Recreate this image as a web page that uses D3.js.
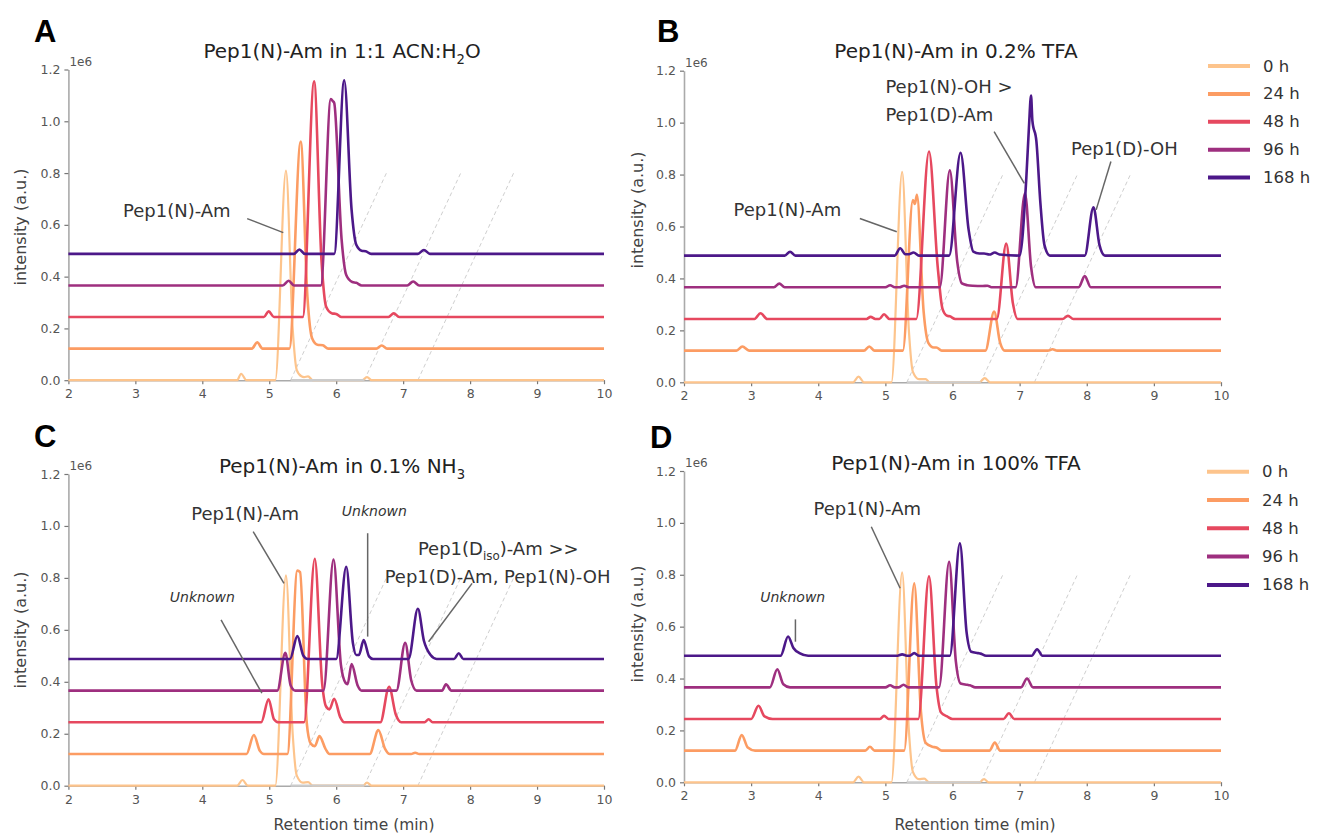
<!DOCTYPE html>
<html><head><meta charset="utf-8">
<script src="https://cdn.jsdelivr.net/npm/d3@7"></script>
<style>body{margin:0;background:#fff;} svg{display:block;}</style>
</head><body>
<svg id="chart" width="1321" height="835"></svg>
<script>
// ---------------- DATA ----------------
const timeLabels = ['0 h', '24 h', '48 h', '96 h', '168 h'];
const traceColors = ['#fdc48c', '#fc9c63', '#e6485f', '#9e2f7f', '#4c1889'];
const baselineOffsets = [0, 0.122, 0.244, 0.366, 0.488];   // x1e6, waterfall offsets
const xTicks = [2, 3, 4, 5, 6, 7, 8, 9, 10];
const yTicks = [0, 0.2, 0.4, 0.6, 0.8, 1.0, 1.2];
const panelLetters = ['A', 'B', 'C', 'D'];
const panelTitles = [
  [['Pep1(N)-Am in 1:1 ACN:H', 0], ['2', 1], ['O', 0]],
  [['Pep1(N)-Am in 0.2% TFA', 0]],
  [['Pep1(N)-Am in 0.1% NH', 0], ['3', 1]],
  [['Pep1(N)-Am in 100% TFA', 0]]
];
// dashed perspective guides: [start time at 0, end time at guideTop]
const guideLines = [[5.32, 6.75], [6.42, 7.86], [7.22, 8.65]];
const guideTop = 0.8;
const greyBaseSegment = [5.32, 6.42];

// chromatogram vertices [retention time (min), intensity above own baseline (x1e6)]
const panelA = [
  [[2,0],[4.52,0],[4.58,0.025],[4.66,0],[5.09,0],[5.25,0.81],[5.35,0.2],[5.41,0.04],[5.48,0.015],[5.52,0.012],[5.58,0.015],[5.65,0],[6.39,0],[6.46,0.012],[6.53,0],[10,0]],
  [[2,0],[4.74,0],[4.82,0.024],[4.9,0],[5.3,0],[5.47,0.8],[5.57,0.2],[5.64,0.04],[5.72,0.015],[5.8,0.013],[5.88,0],[6.6,0],[6.68,0.012],[6.76,0],[10,0]],
  [[2,0],[4.92,0],[4.99,0.022],[5.07,0],[5.5,0],[5.67,0.91],[5.78,0.22],[5.85,0.04],[5.94,0.014],[6.0,0.012],[6.08,0],[6.78,0],[6.86,0.014],[6.94,0],[10,0]],
  [[2,0],[5.2,0],[5.29,0.018],[5.37,0],[5.77,0],[5.92,0.72],[5.95,0.712],[5.97,0.705],[6.08,0.18],[6.15,0.04],[6.24,0.013],[6.3,0.01],[6.38,0],[7.06,0],[7.15,0.015],[7.24,0],[10,0]],
  [[2,0],[5.37,0],[5.45,0.017],[5.53,0],[5.97,0],[6.12,0.67],[6.23,0.17],[6.3,0.035],[6.38,0.012],[6.44,0.01],[6.52,0],[7.22,0],[7.31,0.015],[7.4,0],[10,0]]
];
const panelB = [
  [[2,0],[4.52,0],[4.6,0.022],[4.68,0],[5.09,0],[5.25,0.81],[5.35,0.2],[5.41,0.04],[5.5,0.012],[5.6,0.012],[5.66,0],[6.4,0],[6.48,0.016],[6.56,0],[10,0]],
  [[2,0],[2.78,0],[2.87,0.016],[2.97,0],[4.68,0],[4.76,0.016],[4.84,0],[5.26,0],[5.41,0.58],[5.44,0.565],[5.47,0.6],[5.57,0.15],[5.64,0.03],[5.72,0.012],[5.76,0.012],[5.84,0],[6.49,0],[6.62,0.15],[6.71,0.03],[6.78,0],[7.42,0],[7.49,0.005],[7.56,0],[10,0]],
  [[2,0],[3.05,0],[3.14,0.022],[3.24,0],[4.72,0],[4.78,0.008],[4.85,0],[4.91,0],[4.98,0.018],[5.06,0],[5.46,0],[5.65,0.645],[5.78,0.2],[5.85,0.04],[5.92,0.012],[5.96,0.01],[6.04,0],[6.66,0],[6.8,0.29],[6.9,0.06],[6.97,0],[7.64,0],[7.72,0.012],[7.8,0],[10,0]],
  [[2,0],[3.34,0],[3.42,0.014],[3.5,0],[5.0,0],[5.07,0.008],[5.14,0],[5.21,0],[5.28,0.006],[5.35,0],[5.81,0],[5.96,0.45],[6.07,0.1],[6.14,0.015],[6.22,0.008],[6.3,0.006],[6.45,0.005],[6.52,0.006],[6.58,0],[6.94,0],[7.08,0.362],[7.17,0.08],[7.24,0],[7.88,0],[7.97,0.043],[8.06,0],[10,0]],
  [[2,0],[3.5,0],[3.58,0.015],[3.66,0],[5.14,0],[5.22,0.028],[5.3,0.005],[5.35,0.005],[5.42,0.012],[5.5,0],[5.95,0],[6.12,0.396],[6.24,0.1],[6.31,0.015],[6.4,0.008],[6.47,0.008],[6.55,0.004],[6.63,0.012],[6.7,0.004],[7.0,0],[7.1,0.3],[7.14,0.5],[7.17,0.616],[7.19,0.52],[7.25,0.44],[7.31,0.2],[7.37,0.04],[7.45,0],[7.97,0],[8.1,0.186],[8.19,0.04],[8.27,0],[10,0]]
];
const panelC = [
  [[2,0],[4.52,0],[4.6,0.022],[4.68,0],[5.09,0],[5.25,0.81],[5.35,0.2],[5.41,0.04],[5.5,0.012],[5.58,0.014],[5.65,0],[6.4,0],[6.46,0.012],[6.53,0],[10,0]],
  [[2,0],[4.66,0],[4.77,0.073],[4.86,0.012],[4.92,0],[5.27,0],[5.42,0.706],[5.46,0.7],[5.56,0.12],[5.62,0.04],[5.68,0.03],[5.75,0.069],[5.84,0.02],[5.9,0],[6.5,0],[6.63,0.092],[6.73,0.02],[6.8,0],[7.12,0],[7.18,0.005],[7.24,0],[10,0]],
  [[2,0],[4.88,0],[4.99,0.089],[5.07,0.012],[5.14,0],[5.52,0],[5.68,0.63],[5.79,0.15],[5.85,0.06],[5.9,0.05],[5.97,0.091],[6.06,0.02],[6.12,0],[6.66,0],[6.79,0.137],[6.89,0.03],[6.97,0],[7.32,0],[7.38,0.012],[7.44,0],[10,0]],
  [[2,0],[5.12,0],[5.24,0.146],[5.32,0.02],[5.39,0],[5.81,0],[5.96,0.505],[6.07,0.1],[6.14,0.03],[6.17,0.025],[6.23,0.102],[6.32,0.02],[6.38,0],[6.9,0],[7.03,0.184],[7.12,0.04],[7.2,0],[7.58,0],[7.64,0.024],[7.72,0],[10,0]],
  [[2,0],[5.31,0],[5.42,0.088],[5.51,0.012],[5.57,0],[6.0,0],[6.15,0.355],[6.25,0.06],[6.3,0.015],[6.34,0.015],[6.41,0.073],[6.49,0.01],[6.55,0],[7.08,0],[7.22,0.193],[7.31,0.07],[7.41,0.015],[7.5,0],[7.76,0],[7.83,0.022],[7.9,0],[10,0]]
];
const panelD = [
  [[2,0],[4.52,0],[4.6,0.022],[4.68,0],[5.09,0],[5.25,0.809],[5.35,0.2],[5.41,0.04],[5.5,0.012],[5.58,0.014],[5.65,0],[6.4,0],[6.47,0.012],[6.54,0],[10,0]],
  [[2,0],[2.76,0],[2.86,0.06],[2.95,0.012],[3.06,0],[4.7,0],[4.77,0.015],[4.84,0],[5.28,0],[5.43,0.645],[5.53,0.15],[5.6,0.03],[5.7,0.015],[5.76,0.012],[5.84,0],[6.55,0],[6.63,0.031],[6.71,0],[10,0]],
  [[2,0],[3.0,0],[3.11,0.051],[3.2,0.01],[3.32,0],[4.92,0],[4.98,0.012],[5.05,0],[5.49,0],[5.65,0.55],[5.76,0.13],[5.83,0.025],[5.92,0.01],[6.0,0],[6.76,0],[6.84,0.022],[6.92,0],[10,0]],
  [[2,0],[3.28,0],[3.39,0.07],[3.48,0.012],[3.58,0],[5.0,0],[5.07,0.008],[5.14,0],[5.2,0],[5.27,0.01],[5.34,0],[5.8,0],[5.95,0.484],[6.05,0.1],[6.12,0.015],[6.22,0.01],[6.26,0.008],[6.34,0],[7.02,0],[7.11,0.034],[7.2,0],[10,0]],
  [[2,0],[3.44,0],[3.55,0.074],[3.63,0.03],[3.72,0.01],[3.85,0],[5.18,0],[5.25,0.005],[5.32,0],[5.36,0],[5.43,0.01],[5.5,0],[5.96,0],[6.11,0.433],[6.21,0.09],[6.28,0.015],[6.38,0.01],[6.42,0.008],[6.5,0],[7.18,0],[7.26,0.025],[7.34,0],[10,0]]
];

// annotation labels
const labelsA = [
  {parts: [['Pep1(N)-Am', 0]], t: 3.62, v: 0.656, anchor: 'middle'}
];
const leadersA = [[[4.67, 0.624], [5.21, 0.57]]];
const labelsB = [
  {parts: [['Pep1(N)-Am', 0]], t: 3.54, v: 0.666, anchor: 'middle'},
  {parts: [['Pep1(N)-OH >', 0]], t: 5.0, v: 1.138, anchor: 'start'},
  {parts: [['Pep1(D)-Am', 0]], t: 5.0, v: 1.03, anchor: 'start'},
  {parts: [['Pep1(D)-OH', 0]], t: 8.56, v: 0.90, anchor: 'middle'}
];
const leadersB = [[[4.62, 0.631], [5.17, 0.58]], [[6.62, 0.965], [7.07, 0.766]], [[8.36, 0.85], [8.14, 0.664]]];
const labelsC = [
  {parts: [['Pep1(N)-Am', 0]], t: 4.64, v: 1.049, anchor: 'middle'},
  {parts: [['Unknown', 0]], t: 6.57, v: 1.059, anchor: 'middle', italic: true},
  {parts: [['Unknown', 0]], t: 4.0, v: 0.728, anchor: 'middle', italic: true},
  {parts: [['Pep1(D', 0], ['iso', 1], [')-Am >>', 0]], t: 8.42, v: 0.914, anchor: 'middle'},
  {parts: [['Pep1(D)-Am, Pep1(N)-OH', 0]], t: 8.41, v: 0.807, anchor: 'middle'}
];
const leadersC = [[[4.76, 0.978], [5.22, 0.779]], [[6.47, 0.972], [6.47, 0.574]], [[4.28, 0.638], [4.89, 0.356]], [[8.03, 0.779], [7.38, 0.554]]];
const labelsD = [
  {parts: [['Pep1(N)-Am', 0]], t: 4.73, v: 1.056, anchor: 'middle'},
  {parts: [['Unknown', 0]], t: 3.62, v: 0.716, anchor: 'middle', italic: true}
];
const leadersD = [[[4.79, 0.985], [5.22, 0.748]], [[3.66, 0.628], [3.66, 0.542]]];

const yLabelText = 'intensity (a.u.)';
const xLabelText = 'Retention time (min)';
const exponentText = '1e6';

// ---------------- LAYOUT ----------------
const FONT = "'DejaVu Sans', sans-serif";
const layouts = [
  {traces: panelA, labels: labelsA, leaders: leadersA, xr: [68.4, 604], yr: [380.2, 69.5],
   letter: [34, 42], title: [342, 58], ylabel: [20, 227], xlabel: null, legend: null},
  {traces: panelB, labels: labelsB, leaders: leadersB, xr: [684, 1221], yr: [382.3, 70.7],
   letter: [657, 42], title: [956, 58], ylabel: [637, 210], xlabel: null, legend: [1208, 66, 27.9]},
  {traces: panelC, labels: labelsC, leaders: leadersC, xr: [68.4, 604], yr: [785.7, 474],
   letter: [34, 447], title: [342, 473], ylabel: [20, 630], xlabel: [354, 830], legend: null},
  {traces: panelD, labels: labelsD, leaders: leadersD, xr: [684, 1221], yr: [782.3, 471],
   letter: [650, 448], title: [956, 470], ylabel: [637, 624], xlabel: [975, 830], legend: [1207, 471.7, 28.3]}
];

const svg = d3.select('#chart');
svg.append('rect').attr('width', 1321).attr('height', 835).attr('fill', '#fff');

function richText(sel, parts, size) {
  parts.forEach((p, i) => {
    const sub = p[1] === 1;
    const prevSub = i > 0 && parts[i - 1][1] === 1;
    sel.append('tspan').text(p[0])
      .attr('font-size', sub ? size * 0.66 : size)
      .attr('dy', sub ? size * 0.28 : (prevSub ? -size * 0.28 : 0));
  });
}

layouts.forEach((L, pi) => {
  const x = d3.scaleLinear().domain([2, 10]).range(L.xr);
  const y = d3.scaleLinear().domain([0, 1.2]).range(L.yr);
  const g = svg.append('g');

  // guides
  g.selectAll('line.guide').data(guideLines).enter().append('line')
    .attr('x1', d => x(d[0])).attr('y1', y(0))
    .attr('x2', d => x(d[1])).attr('y2', y(guideTop))
    .attr('stroke', '#cfcfcf').attr('stroke-width', 1).attr('stroke-dasharray', '4,3');

  // axes
  const yAxis = d3.axisLeft(y).tickValues(yTicks).tickFormat(d3.format('.1f')).tickSize(4).tickSizeOuter(0).tickPadding(4);
  const xAxis = d3.axisBottom(x).tickValues(xTicks).tickFormat(d3.format('d')).tickSize(4).tickSizeOuter(0).tickPadding(5);
  const ya = g.append('g').attr('transform', `translate(${L.xr[0]},0)`).call(yAxis);
  const xa = g.append('g').attr('transform', `translate(0,${L.yr[0]})`).call(xAxis);
  [ya, xa].forEach(a => {
    a.select('.domain').attr('stroke', '#aaaaaa').attr('stroke-width', 1.6);
    a.selectAll('.tick line').attr('stroke', '#777').attr('stroke-width', 1.2);
    a.selectAll('.tick text').attr('fill', '#555').attr('font-family', FONT).attr('font-size', 12.5);
  });

  // exponent
  g.append('text').attr('x', L.xr[0] + 1).attr('y', L.yr[1] - 4)
    .attr('font-family', FONT).attr('font-size', 12).attr('fill', '#555').text(exponentText);

  // traces
  L.traces.forEach((tr, i) => {
    const off = baselineOffsets[i];
    const line = d3.line().x(d => x(d[0])).y(d => y(d[1] + off)).curve(d3.curveMonotoneX);
    g.append('path').datum(tr).attr('d', line)
      .attr('fill', 'none').attr('stroke', traceColors[i])
      .attr('stroke-width', i === 0 ? 2.2 : 2.6).attr('stroke-linejoin', 'round');
    if (i === 0) {
      g.append('line').attr('x1', x(greyBaseSegment[0])).attr('x2', x(greyBaseSegment[1]))
        .attr('y1', y(0)).attr('y2', y(0)).attr('stroke', '#cccccc').attr('stroke-width', 2.2);
    }
  });

  // leaders
  g.selectAll('line.leader').data(L.leaders).enter().append('line')
    .attr('x1', d => x(d[0][0])).attr('y1', d => y(d[0][1]))
    .attr('x2', d => x(d[1][0])).attr('y2', d => y(d[1][1]))
    .attr('stroke', '#666').attr('stroke-width', 1.5);

  // annotation texts
  L.labels.forEach(lb => {
    const size = lb.italic ? 14 : 18;
    const t = g.append('text').attr('x', x(lb.t)).attr('y', y(lb.v) + size * 0.36)
      .attr('text-anchor', lb.anchor).attr('font-family', FONT).attr('fill', '#333')
      .attr('font-style', lb.italic ? 'italic' : 'normal');
    richText(t, lb.parts, size);
  });

  // title
  const tt = svg.append('text').attr('x', L.title[0]).attr('y', L.title[1])
    .attr('text-anchor', 'middle').attr('font-family', FONT).attr('fill', '#222');
  richText(tt, panelTitles[pi], 20);

  // panel letter
  svg.append('text').attr('x', L.letter[0]).attr('y', L.letter[1])
    .attr('font-family', "'Liberation Sans', Arial, sans-serif").attr('font-weight', 'bold')
    .attr('font-size', 31).attr('fill', '#000').text(panelLetters[pi]);

  // y label
  svg.append('text').attr('transform', `translate(${L.ylabel[0]},${L.ylabel[1]}) rotate(-90)`)
    .attr('text-anchor', 'middle').attr('dominant-baseline', 'central')
    .attr('font-family', FONT).attr('font-size', 16).attr('fill', '#444').text(yLabelText);

  // x label
  if (L.xlabel) {
    svg.append('text').attr('x', L.xlabel[0]).attr('y', L.xlabel[1])
      .attr('text-anchor', 'middle').attr('font-family', FONT).attr('font-size', 15.5)
      .attr('fill', '#444').text(xLabelText);
  }

  // legend
  if (L.legend) {
    const [lx, ly, ldy] = L.legend;
    timeLabels.forEach((lab, i) => {
      svg.append('line').attr('x1', lx).attr('x2', lx + 42)
        .attr('y1', ly + i * ldy).attr('y2', ly + i * ldy)
        .attr('stroke', traceColors[i]).attr('stroke-width', 4);
      svg.append('text').attr('x', lx + 55).attr('y', ly + i * ldy)
        .attr('dominant-baseline', 'central').attr('font-family', FONT)
        .attr('font-size', 16.5).attr('fill', '#333').text(lab);
    });
  }
});
</script>
</body></html>
